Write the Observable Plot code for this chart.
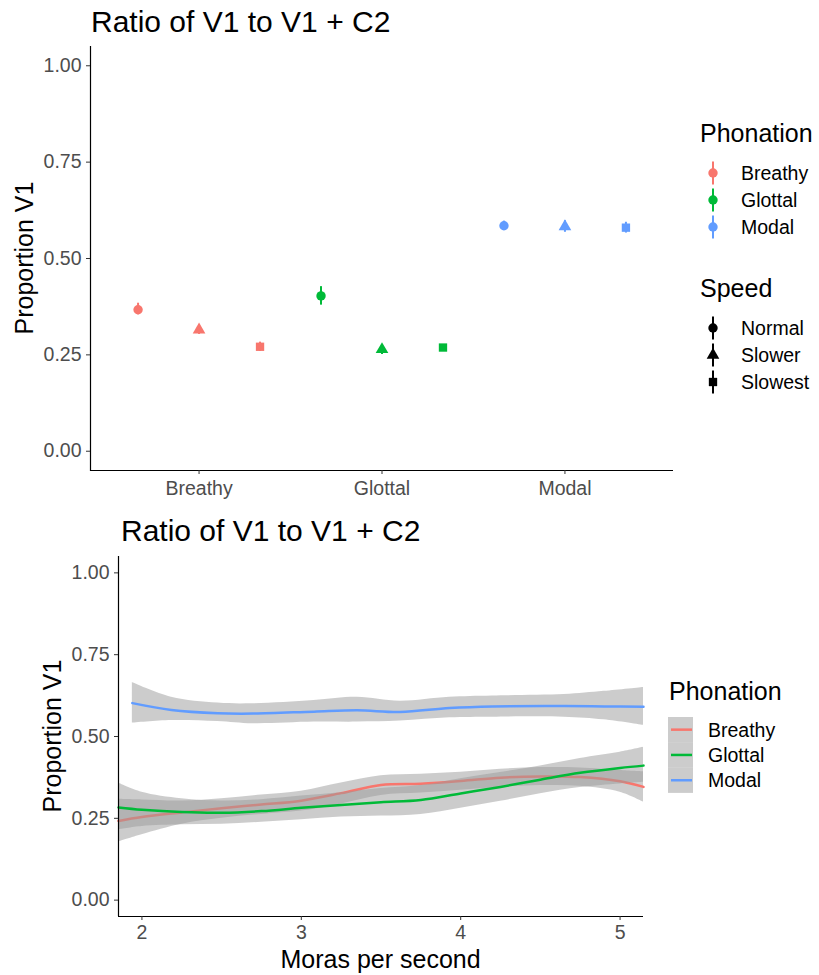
<!DOCTYPE html>
<html><head><meta charset="utf-8">
<script src="https://cdn.jsdelivr.net/npm/d3@7"></script>
<script src="https://cdn.jsdelivr.net/npm/@observablehq/plot@0.6"></script>
<style>
body{margin:0;background:#fff;}
#wrap{position:relative;width:819px;height:975px;overflow:hidden;background:#fff;font-family:"Liberation Sans",Arial,sans-serif;}
#wrap > *{position:absolute;}
</style></head><body><div id="wrap"></div>
<script>
// ---------- data ----------
const phonations = ["Breathy", "Glottal", "Modal"];
const speeds = ["Normal", "Slower", "Slowest"];
const phonationColors = ["#F8766D", "#00BA38", "#619CFF"];
const speedSymbols = ["circle", "triangle", "square"];
const yTicks = [0, 0.25, 0.5, 0.75, 1];
const xTicksBottom = [2, 3, 4, 5];

// top chart: mean and interval, phonation-major order (Normal, Slower, Slowest)
const meanV1 = [0.367, 0.315, 0.271, 0.403, 0.264, 0.269, 0.585, 0.583, 0.580];
const lowV1  = [0.354, 0.303, 0.259, 0.379, 0.251, 0.262, 0.573, 0.568, 0.566];
const highV1 = [0.384, 0.327, 0.283, 0.427, 0.277, 0.276, 0.597, 0.598, 0.594];

// bottom chart: smooth curves with confidence bands
const breathyX  = [1.853, 2.0, 2.25, 2.5, 2.75, 3.0, 3.25, 3.5, 3.75, 4.0, 4.25, 4.5, 4.75, 5.0, 5.147];
const breathyY  = [0.242, 0.254, 0.268, 0.281, 0.292, 0.304, 0.327, 0.352, 0.356, 0.364, 0.374, 0.378, 0.376, 0.363, 0.346];
const breathyLo = [0.178, 0.200, 0.232, 0.250, 0.262, 0.272, 0.294, 0.320, 0.327, 0.336, 0.345, 0.350, 0.348, 0.330, 0.300];
const breathyHi = [0.308, 0.306, 0.303, 0.310, 0.321, 0.333, 0.358, 0.380, 0.385, 0.391, 0.400, 0.405, 0.404, 0.396, 0.392];

const glottalX  = [1.853, 2.0, 2.25, 2.5, 2.75, 3.0, 3.25, 3.5, 3.75, 4.0, 4.25, 4.5, 4.75, 5.0, 5.147];
const glottalY  = [0.283, 0.276, 0.269, 0.267, 0.272, 0.282, 0.291, 0.299, 0.306, 0.326, 0.346, 0.368, 0.389, 0.404, 0.411];
const glottalLo = [0.215, 0.225, 0.230, 0.232, 0.238, 0.246, 0.254, 0.257, 0.262, 0.281, 0.302, 0.325, 0.344, 0.355, 0.360];
const glottalHi = [0.358, 0.330, 0.310, 0.303, 0.307, 0.318, 0.328, 0.341, 0.350, 0.371, 0.390, 0.410, 0.433, 0.452, 0.467];

const modalX  = [1.94, 2.185, 2.476, 2.70, 3.08, 3.35, 3.62, 3.93, 4.20, 4.65, 4.90, 5.147];
const modalY  = [0.602, 0.581, 0.571, 0.570, 0.576, 0.580, 0.575, 0.587, 0.592, 0.593, 0.592, 0.591];
const modalLo = [0.541, 0.549, 0.546, 0.539, 0.544, 0.544, 0.547, 0.557, 0.559, 0.559, 0.551, 0.534];
const modalHi = [0.665, 0.620, 0.602, 0.600, 0.610, 0.620, 0.608, 0.620, 0.624, 0.628, 0.638, 0.650];

const xDomainBottom = [1.853, 5.147];
const yDomain = [-0.05, 1.05];

// ---------- build ----------
const FONT = '"Liberation Sans", Arial, sans-serif';
const wrap = document.getElementById("wrap");

const keys = [];
phonations.forEach(p => speeds.forEach(s => keys.push(p + "|" + s)));
const pointRows = keys.map((k, i) => ({
  key: k, phonation: k.split("|")[0], speed: k.split("|")[1],
  mean: meanV1[i], lo: lowV1[i], hi: highV1[i]
}));

const topPlot = Plot.plot({
  width: 819, height: 500,
  marginLeft: 90, marginRight: 146, marginTop: 46, marginBottom: 30,
  style: {fontFamily: FONT, fontSize: "19.5px", background: "transparent", overflow: "visible"},
  x: {type: "point", domain: keys, padding: 0.78, round: false},
  y: {domain: yDomain},
  color: {domain: phonations, range: phonationColors},
  symbol: {domain: speeds, range: speedSymbols},
  marks: [
    Plot.ruleY([yDomain[0]], {stroke: "#000", strokeWidth: 1.2}),
    Plot.frame({anchor: "left", stroke: "#000", strokeWidth: 1.2}),
    Plot.axisY({ticks: yTicks, tickFormat: d3.format(".2f"), tickSize: 4, tickPadding: 5,
      stroke: "#333", fill: "#4D4D4D", label: null}),
    Plot.axisX({ticks: keys.filter(k => k.endsWith("|Slower")), tickFormat: k => k.split("|")[0],
      tickSize: 4, tickPadding: 7, stroke: "#333", fill: "#4D4D4D", label: null}),
    Plot.ruleX(pointRows, {x: "key", y1: "lo", y2: "hi", stroke: "phonation", strokeWidth: 2}),
    Plot.dot(pointRows, {x: "key", y: "mean", fill: "phonation", symbol: "speed", r: 4.7, stroke: null})
  ]
});
topPlot.style.left = "0px"; topPlot.style.top = "0px";
wrap.appendChild(topPlot);

function rowsOf(xs, ys, lo, hi) {
  return xs.map((x, i) => ({x, y: ys[i], lo: lo[i], hi: hi[i]}));
}
const series = [
  {name: "Breathy", rows: rowsOf(breathyX, breathyY, breathyLo, breathyHi), color: phonationColors[0]},
  {name: "Glottal", rows: rowsOf(glottalX, glottalY, glottalLo, glottalHi), color: phonationColors[1]},
  {name: "Modal",   rows: rowsOf(modalX, modalY, modalLo, modalHi), color: phonationColors[2]}
];
const curveMarks = [];
series.forEach(s => {
  curveMarks.push(Plot.areaY(s.rows, {x: "x", y1: "lo", y2: "hi", fill: "#999", fillOpacity: 0.5, curve: "catmull-rom"}));
  curveMarks.push(Plot.line(s.rows, {x: "x", y: "y", stroke: s.color, strokeWidth: 2.5, curve: "catmull-rom"}));
});

const bottomPlot = Plot.plot({
  width: 819, height: 475,
  marginLeft: 118, marginRight: 176, marginTop: 56, marginBottom: 59,
  style: {fontFamily: FONT, fontSize: "19.5px", background: "transparent", overflow: "visible"},
  x: {domain: xDomainBottom},
  y: {domain: yDomain},
  marks: [
    ...curveMarks,
    Plot.ruleY([yDomain[0]], {stroke: "#000", strokeWidth: 1.2}),
    Plot.ruleX([xDomainBottom[0]], {stroke: "#000", strokeWidth: 1.2}),
    Plot.axisY({ticks: yTicks, tickFormat: d3.format(".2f"), tickSize: 4, tickPadding: 5,
      stroke: "#333", fill: "#4D4D4D", label: null}),
    Plot.axisX({ticks: xTicksBottom, tickFormat: d3.format("d"), tickSize: 4, tickPadding: 5,
      stroke: "#333", fill: "#4D4D4D", label: null})
  ]
});
bottomPlot.style.left = "0px"; bottomPlot.style.top = "500px";
wrap.appendChild(bottomPlot);

// ---------- titles and legends (overlay) ----------
const svg = d3.create("svg").attr("width", 819).attr("height", 975)
  .style("left", "0px").style("top", "0px").style("pointer-events", "none")
  .style("font-family", FONT);

function txt(x, y, s, size, opts = {}) {
  const t = svg.append("text").attr("x", x).attr("y", y).text(s)
    .attr("font-size", size).attr("fill", opts.fill || "#000");
  if (opts.anchor) t.attr("text-anchor", opts.anchor);
  if (opts.rotate) t.attr("transform", `rotate(-90 ${x} ${y})`);
  return t;
}
const title = "Ratio of V1 to V1 + C2";
txt(91, 32, title, 30);
txt(33, 258, "Proportion V1", 25, {anchor: "middle", rotate: true});
txt(121, 541, title, 30);
txt(61, 736, "Proportion V1", 25, {anchor: "middle", rotate: true});
txt(380.6, 968, "Moras per second", 25, {anchor: "middle"});

// top legend: Phonation
txt(700, 142, "Phonation", 25);
phonations.forEach((p, i) => {
  const cy = 173 + i * 27;
  svg.append("line").attr("x1", 713).attr("x2", 713).attr("y1", cy - 11.5).attr("y2", cy + 11.5)
    .attr("stroke", phonationColors[i]).attr("stroke-width", 2);
  svg.append("circle").attr("cx", 713).attr("cy", cy).attr("r", 4.7).attr("fill", phonationColors[i]);
  txt(741, cy + 7, p, 19.5);
});
// top legend: Speed
txt(700, 297, "Speed", 25);
const symTypes = [d3.symbolCircle, d3.symbolTriangle, d3.symbolSquare];
speeds.forEach((s, i) => {
  const cy = 328 + i * 27;
  svg.append("line").attr("x1", 713).attr("x2", 713).attr("y1", cy - 11.5).attr("y2", cy + 11.5)
    .attr("stroke", "#000").attr("stroke-width", 2);
  svg.append("path").attr("d", d3.symbol(symTypes[i], Math.PI * 4.7 * 4.7)())
    .attr("transform", `translate(713,${cy})`).attr("fill", "#000");
  txt(741, cy + 7, s, 19.5);
});

// bottom legend
txt(669, 700, "Phonation", 25);
phonations.forEach((p, i) => {
  const y0 = 717 + i * 25.3;
  svg.append("rect").attr("x", 668).attr("y", y0).attr("width", 25).attr("height", 25.3)
    .attr("fill", "#999").attr("fill-opacity", 0.5);
  const cy = y0 + 12.65;
  svg.append("line").attr("x1", 671).attr("x2", 692).attr("y1", cy).attr("y2", cy)
    .attr("stroke", phonationColors[i]).attr("stroke-width", 2.5);
  txt(708, cy + 7, p, 19.5);
});

wrap.appendChild(svg.node());
</script></body></html>
